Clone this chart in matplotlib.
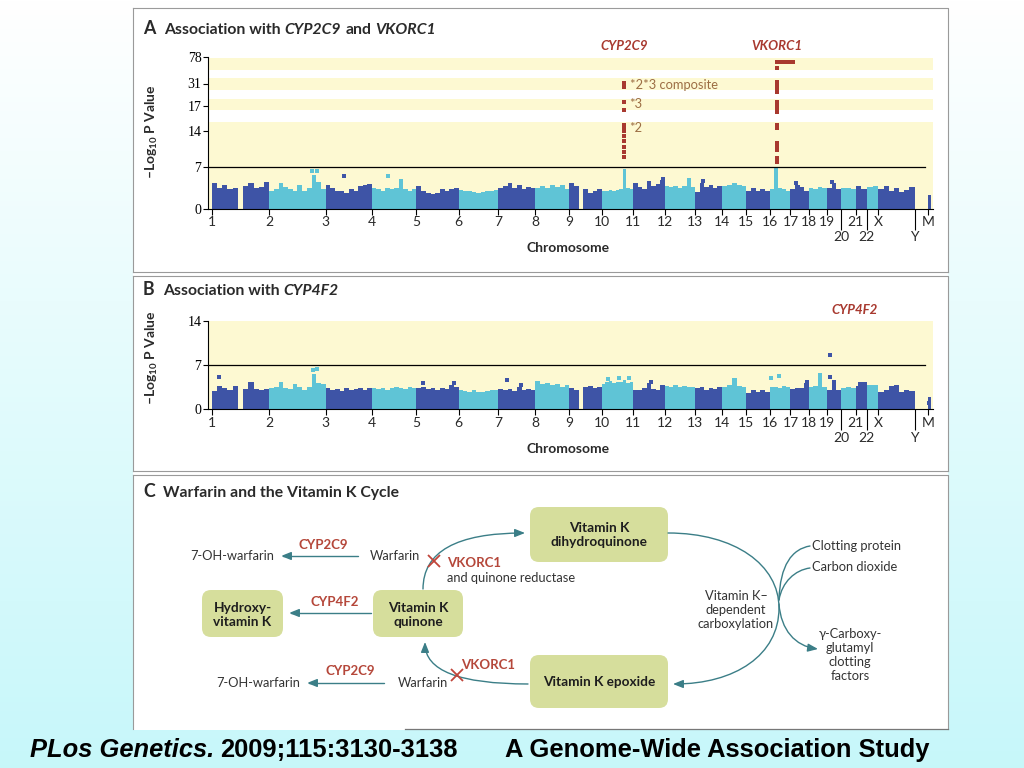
import numpy as np
import matplotlib
matplotlib.use("Agg")
import matplotlib.pyplot as plt
from matplotlib import font_manager as fm
from matplotlib.patches import Rectangle, FancyBboxPatch, FancyArrowPatch
from matplotlib.path import Path

# ---------------- data ----------------
chrom_labels = [str(i) for i in range(1, 23)] + ["X", "Y", "M"]
chrom_len_mb = [247, 243, 199, 191, 181, 171, 159, 146, 140, 135, 134, 132,
                114, 106, 100, 89, 79, 76, 64, 62, 47, 50, 155, 58, 12]

# skyline heights (-log10 P) per chromosome, left to right
heights_a = [
    [4.3, 3.5, 3.9, 3.2, 3.4, 0, 3.7, 4.3, 3.4, 3.6, 4.5],
    [2.9, 3.2, 4.3, 3.6, 3.2, 3.0, 4.0, 3.0, 3.4, 5.5, 4.5, 3.2],
    [4.0, 3.4, 2.9, 2.9, 2.6, 3.2, 2.9, 3.7, 4.0, 4.1],
    [3.4, 3.2, 3.0, 3.4, 3.2, 3.5, 4.9, 3.3, 3.0, 3.2],
    [3.7, 3.0, 2.6, 2.4, 2.6, 3.2, 3.0, 3.2, 3.4],
    [3.1, 3.0, 2.9, 2.8, 2.6, 2.7, 2.9, 3.0, 3.1],
    [3.4, 3.7, 4.3, 3.4, 4.0, 3.2, 3.6, 3.4],
    [3.4, 3.8, 3.5, 4.0, 3.6, 3.9, 3.2],
    [4.3, 3.8, 0, 3.2, 2.6, 3.0, 3.2],
    [2.9, 3.0, 3.1, 3.0, 3.1, 3.2, 6.6, 3.4, 3.2],
    [4.3, 3.6, 3.2, 4.6, 3.7, 4.1, 4.8],
    [3.7, 3.6, 3.8, 3.5, 3.7, 4.5, 3.6],
    [2.8, 4.3, 3.6, 3.9, 3.4, 3.8],
    [3.8, 4.0, 4.2, 4.0, 3.8],
    [2.9, 3.4, 3.0, 3.3, 2.9],
    [3.2, 6.7, 3.4, 3.2, 3.0],
    [3.2, 4.0, 3.6, 3.0],
    [3.4, 3.2, 3.6, 3.4],
    [3.4, 4.3, 3.2],
    [3.4, 3.5, 3.3],
    [3.7, 3.2],
    [3.6, 3.7],
    [3.2, 3.8, 3.0, 3.4, 2.8, 3.1, 3.6],
    [],
    [2.3],
]
heights_b = [
    [2.9, 3.7, 3.4, 3.0, 3.7, 0, 3.2, 4.3, 3.2, 3.0, 3.2],
    [3.4, 3.6, 4.3, 3.4, 3.2, 4.0, 3.5, 3.0, 3.6, 5.6, 4.2, 4.0],
    [3.4, 3.0, 3.2, 2.9, 3.3, 3.0, 3.2, 3.4, 3.0, 3.3],
    [3.3, 3.2, 3.4, 3.1, 3.3, 3.6, 3.4, 3.2, 3.5, 3.3],
    [3.4, 3.6, 3.2, 3.4, 3.0, 3.4, 3.2, 3.8, 3.5],
    [3.0, 2.9, 2.8, 3.0, 2.7, 2.8, 2.9, 3.0, 3.1],
    [3.2, 3.0, 3.2, 2.9, 3.6, 3.1, 3.2, 3.0],
    [4.5, 4.0, 4.2, 3.8, 4.0, 3.6, 3.8],
    [3.4, 3.0, 0, 3.6, 3.7, 3.4, 3.6],
    [4.0, 4.3, 4.5, 4.2, 4.4, 4.3, 4.6, 4.2, 4.4],
    [3.1, 3.0, 3.3, 4.2, 3.2, 3.0, 3.9],
    [3.7, 3.6, 3.8, 3.6, 3.7, 3.6, 3.5],
    [3.4, 3.6, 3.0, 3.4, 3.2, 3.5],
    [3.6, 3.8, 5.0, 3.7, 3.5],
    [2.6, 3.0, 2.8, 3.1, 2.8],
    [3.5, 3.6, 3.4, 3.7, 3.5],
    [3.2, 3.4, 3.3, 4.2],
    [3.6, 3.7, 5.8, 3.6],
    [3.0, 4.6, 3.0],
    [3.4, 3.6, 3.3],
    [3.7, 4.3],
    [3.8, 3.9],
    [2.8, 3.0, 3.7, 3.8, 2.8, 3.0, 2.9],
    [],
    [2.0],
]

# isolated squares above the skyline: (chromosome, fraction along it, value)
spots_a = [("2", 0.76, 6.3), ("2", 0.84, 6.3), ("2", 0.80, 5.3), ("3", 0.40, 5.4),
           ("4", 0.36, 5.5), ("11", 0.95, 5.0), ("12", 0.80, 4.8), ("13", 0.30, 4.6),
           ("17", 0.30, 4.3), ("19", 0.40, 4.5)]
spots_b = [("1", 0.12, 5.1), ("2", 0.77, 6.2), ("2", 0.84, 6.4), ("2", 0.80, 5.2),
           ("5", 0.15, 4.2), ("5", 0.88, 4.1), ("7", 0.23, 4.6), ("7", 0.62, 3.8),
           ("10", 0.20, 4.8), ("10", 0.55, 4.9), ("10", 0.86, 5.0), ("11", 0.56, 4.3),
           ("16", 0.08, 5.0), ("16", 0.45, 5.3), ("17", 0.90, 4.3), ("19", 0.25, 8.6),
           ("19", 0.25, 5.2), ("21", 0.40, 4.0), ("M", 0.50, 1.0)]

# significant SNPs (red)
cyp2c9_chrom, cyp2c9_mb = "10", 95
cyp2c9_vals = [31.4, 28.7, 19.7, 16.5, 14.7, 14.3, 13.9, 12.9, 11.9, 10.8, 9.8, 8.8]
vkorc1_chrom, vkorc1_mb = "16", 31
vkorc1_vals = [58.5, 33.7, 30.1, 28.2, 25.7, 19.5, 17.6, 16.8, 16.3, 14.7, 14.3,
               11.6, 10.8, 10.2, 8.6, 7.9]
vkorc1_top_mb = [31, 48, 65, 82, 99]
vkorc1_top_val = 69

yticks_a = [0, 7, 14, 17, 31, 78]
yticks_b = [0, 7, 14]
threshold = 7

# ---------------- style ----------------
DARK = "#3E54A6"
CYAN = "#5FC4D6"
YELLOW = "#FDF9D2"
RED = "#A8392F"
TEAL = "#3B7E87"
BOX = "#D6DE9C"
TXT = "#2a2a2a"


def pick(fams):
    for f in fams:
        try:
            fm.findfont(fm.FontProperties(family=f), fallback_to_default=False)
            return f
        except Exception:
            pass
    return "DejaVu Sans"


SANS = pick(["Lato", "Open Sans", "DejaVu Sans"])
NARROW = pick(["Liberation Sans Narrow", SANS])
SERIF = pick(["Liberation Serif", "DejaVu Serif"])
plt.rcParams["font.family"] = [SANS, "DejaVu Sans"]
plt.rcParams["mathtext.fontset"] = "custom"
plt.rcParams["mathtext.rm"] = SANS + ":bold"
plt.rcParams["mathtext.bf"] = SANS + ":bold"

starts = np.concatenate([[0], np.cumsum(chrom_len_mb)[:-1]])

fig = plt.figure(figsize=(10.24, 7.68), dpi=100)

# background gradient and page layout (pixel coordinates)
bg = fig.add_axes([0, 0, 1, 1])
grad = np.linspace(0, 1, 256)[:, None, None]
top_c = np.array([1.0, 1.0, 1.0])
bot_c = np.array([0.78, 0.97, 0.98])
img = top_c * (1 - grad) + bot_c * grad
bg.imshow(np.repeat(img, 2, axis=1), extent=(0, 1024, 768, 0), aspect="auto")
bg.set_xlim(0, 1024)
bg.set_ylim(768, 0)
bg.axis("off")

bg.add_patch(Rectangle((133, 8), 815, 722, fc="white", ec="none"))
for y0, y1 in [(8, 272), (276, 471), (475, 729)]:
    bg.plot([133, 948, 948], [y0, y0, y1], color="#9a9a9a", lw=0.8)
    bg.plot([133, 133], [y0, y1], color="#9a9a9a", lw=0.8)
bg.plot([133, 948], [272, 272], color="#9a9a9a", lw=0.8)
bg.plot([133, 948], [471, 471], color="#9a9a9a", lw=0.8)
bg.plot([405, 948], [729, 729], color="#777777", lw=0.9)


def rich(x, y, parts, size):
    t = bg.text(x, y, parts[0][0], fontsize=size + 1.5, fontweight="bold",
                va="baseline", color=TXT)
    for s, style, gap in parts[1:]:
        t = bg.annotate(s, xy=(1, 0), xycoords=t, xytext=(gap, 0),
                        textcoords="offset points", va="bottom", ha="left",
                        fontsize=size, fontweight="bold", fontstyle=style, color=TXT)


rich(143, 34, [("A", None, 0), ("Association with", "normal", 6),
               ("CYP2C9", "italic", 3), ("and", "normal", 3), ("VKORC1", "italic", 3)], 11.3)
rich(143, 295, [("B", None, 0), ("Association with", "normal", 6),
                ("CYP4F2", "italic", 3)], 11.3)
rich(143, 497, [("C", None, 0), ("Warfarin and the Vitamin K Cycle", "normal", 6)], 11.3)

# ---------------- Manhattan panels ----------------
ya_pos = [0, 42, 78, 102.5, 125, 151.5]
fx = [-100] + yticks_a + [500]
fp = [-600] + ya_pos + [151.5 + 422 * 26.5 / 47]


def fwd(v):
    return np.interp(v, fx, fp)


def inv(p):
    return np.interp(p, fp, fx)


px_per_mb = (928 - 211.7) / 3078
left_px, right_px = 207.7, 933
ax_w = (right_px - left_px) / 1024
axA = fig.add_axes([left_px / 1024, (768 - 208.5) / 768, ax_w, 151.5 / 768])
axB = fig.add_axes([left_px / 1024, (768 - 409.3) / 768, ax_w, 88.3 / 768])


def skyline(ax, heights, spots):
    for i, hs in enumerate(heights):
        if not hs:
            continue
        col = DARK if i % 2 == 0 else CYAN
        w = chrom_len_mb[i] / len(hs)
        x = starts[i] + w * np.arange(len(hs))
        ax.bar(x, hs, width=w, align="edge", color=col, linewidth=0, zorder=2)
    for c, f, v in spots:
        i = chrom_labels.index(c)
        col = DARK if i % 2 == 0 else CYAN
        ax.scatter(starts[i] + f * chrom_len_mb[i], v, marker="s", s=8,
                   color=col, linewidths=0, zorder=3)


def setup(ax, yticks, ylim):
    ax.set_facecolor("none")
    for s in ["top", "right"]:
        ax.spines[s].set_visible(False)
    for s in ["left", "bottom"]:
        ax.spines[s].set_linewidth(0.8)
        ax.spines[s].set_zorder(4)
    ax.set_xlim(-(211.7 - left_px) / px_per_mb, 3078 + (right_px - 928) / px_per_mb)
    ax.set_ylim(*ylim)
    lower = ("20", "22", "Y")
    major = [i for i, l in enumerate(chrom_labels) if l not in lower]
    minor = [i for i, l in enumerate(chrom_labels) if l in lower]
    ax.set_xticks(starts[major], [chrom_labels[i] for i in major])
    ax.set_xticks(starts[minor], [chrom_labels[i] for i in minor], minor=True)
    ax.tick_params(axis="x", which="major", length=4, width=0.8, pad=1.5, labelsize=10)
    ax.tick_params(axis="x", which="minor", length=15, width=0.8, pad=1, labelsize=10)
    ax.set_yticks(yticks, [str(t) for t in yticks])
    ax.tick_params(axis="y", length=3.5, width=0.8, pad=1, labelsize=10)
    for lab in ax.get_yticklabels():
        lab.set_fontfamily(SERIF)
    for lab in ax.get_xticklabels(which="both"):
        lab.set_fontfamily(NARROW)
        lab.set_color(TXT)
    ax.set_ylabel("\u2013Log$_{10}$ P Value", fontsize=10, fontweight="bold", color=TXT)
    ax.text(0.497, 0, "Chromosome", transform=ax.transAxes, ha="center", va="center",
            fontsize=10, fontweight="bold", color=TXT)


# panel A
axA.set_yscale("function", functions=(fwd, inv))
for lo, hi in [(0, 15), (16.5, 21.4), (27, 40.8), (55, 76.2)]:
    axA.axhspan(lo, hi, color=YELLOW, lw=0, zorder=0)
skyline(axA, heights_a, spots_a)
axA.axhline(threshold, xmax=0.989, color="black", lw=0.9, zorder=3)
setup(axA, yticks_a, (0, 78))
axA.yaxis.set_label_coords(-0.066, 0.51)
axA.texts[-1].set_position((0.497, -39.5 / 151.5))

xc = starts[chrom_labels.index(cyp2c9_chrom)] + cyp2c9_mb
xv = starts[chrom_labels.index(vkorc1_chrom)] + vkorc1_mb
red_kw = dict(marker="s", s=6, color=RED, linewidths=0, zorder=5)
axA.scatter([xc] * len(cyp2c9_vals), cyp2c9_vals, **red_kw)
axA.scatter([xv] * len(vkorc1_vals), vkorc1_vals, **red_kw)
axA.scatter(starts[chrom_labels.index(vkorc1_chrom)] + np.array(vkorc1_top_mb),
            [vkorc1_top_val] * len(vkorc1_top_mb), **red_kw)
for x, name in [(xc, "CYP2C9"), (xv, "VKORC1")]:
    axA.annotate(name, xy=(x, 1.07), xycoords=("data", "axes fraction"), ha="center",
                 va="center", fontsize=9.5, fontweight="bold", fontstyle="italic",
                 color=RED, annotation_clip=False)
for v, lab in [(29.8, "*2*3 composite"), (18.2, "*3"), (14.3, "*2")]:
    axA.annotate(lab, xy=(xc, v), xytext=(4, 0), textcoords="offset points",
                 va="center", ha="left", fontsize=9.3, color="#9C6E44")

# panel B
axB.axhspan(0, 14, color=YELLOW, lw=0, zorder=0)
skyline(axB, heights_b, spots_b)
axB.axhline(threshold, xmax=0.989, color="black", lw=0.9, zorder=3)
setup(axB, yticks_b, (0, 14))
axB.yaxis.set_label_coords(-0.066, 0.58)
axB.texts[-1].set_position((0.497, -39.7 / 88.3))
bg.text(855, 310, "CYP4F2", ha="center", va="center", fontsize=9.5,
        fontweight="bold", fontstyle="italic", color=RED)

# ---------------- panel C: vitamin K cycle ----------------
def box(x0, y0, x1, y1, text):
    bg.add_patch(FancyBboxPatch((x0, y0), x1 - x0, y1 - y0,
                                boxstyle="round,pad=0,rounding_size=9", fc=BOX, ec="none"))
    bg.text((x0 + x1) / 2, (y0 + y1) / 2 + 1, text, ha="center", va="center",
            fontsize=9.8, fontweight="bold", color="#1e1e1e", linespacing=1.2)


box(530, 507, 668, 562, "Vitamin K\ndihydroquinone")
box(530, 655, 668, 708, "Vitamin K epoxide")
box(373, 590, 463, 637, "Vitamin K\nquinone")
box(202, 590, 283, 637, "Hydroxy-\nvitamin K")

arrow_style = "-|>,head_length=0.55,head_width=0.22"


def arrow(verts, codes, head=True):
    p = Path(verts, codes)
    bg.add_patch(FancyArrowPatch(path=p, arrowstyle=arrow_style if head else "-",
                                 mutation_scale=11, color=TEAL, lw=1.0,
                                 shrinkA=0, shrinkB=0))


M, L, C3, C4 = Path.MOVETO, Path.LINETO, Path.CURVE3, Path.CURVE4
arrow([(358, 556), (281, 556)], [M, L])
arrow([(371, 613), (289, 613)], [M, L])
arrow([(384, 683), (307, 683)], [M, L])
arrow([(423, 589), (423, 533), (525, 533)], [M, C3, C3])
arrow([(528, 684), (425, 684), (425, 642)], [M, C3, C3])
arrow([(668, 533), (735, 533), (779, 565), (779, 608), (779, 655), (735, 684), (673, 684)],
      [M, C4, C4, C4, C4, C4, C4])
arrow([(810, 546), (792, 549), (780, 565), (779, 600)], [M, C4, C4, C4], head=False)
arrow([(810, 568), (795, 570), (782, 582), (779, 600)], [M, C4, C4, C4], head=False)
arrow([(779, 604), (781, 630), (795, 646), (818, 649)], [M, C4, C4, C4])

bg.plot([434, 457], [561, 675], ls="none", marker="x", ms=8, mew=1.3, color="#C0453A")

small = dict(fontsize=9.3, color="#333333", va="center")
redt = dict(fontsize=9.5, color="#B5473A", va="center", fontweight="bold")
bg.text(190, 556, "7-OH-warfarin", ha="left", **small)
bg.text(323, 545, "CYP2C9", ha="center", **redt)
bg.text(370, 556, "Warfarin", ha="left", **small)
bg.text(447, 563, "VKORC1", ha="left", **redt)
bg.text(447, 578, "and quinone reductase", ha="left", **small)
bg.text(335, 602, "CYP4F2", ha="center", **redt)
bg.text(216, 683, "7-OH-warfarin", ha="left", **small)
bg.text(350, 671, "CYP2C9", ha="center", **redt)
bg.text(398, 683, "Warfarin", ha="left", **small)
bg.text(461, 665, "VKORC1", ha="left", **redt)
bg.text(812, 546, "Clotting protein", ha="left", **small)
bg.text(812, 567, "Carbon dioxide", ha="left", **small)
bg.text(736, 610, "Vitamin K\u2013\ndependent\ncarboxylation", ha="center",
        linespacing=1.2, **small)
bg.text(850, 655, "\u03b3-Carboxy-\nglutamyl\nclotting\nfactors", ha="center",
        linespacing=1.2, **small)

# ---------------- footer ----------------
foot = pick(["Liberation Sans", "DejaVu Sans"])
t1 = bg.text(30, 757, "PLos Genetics.", fontsize=18.4, fontweight="bold",
             fontstyle="italic", family=foot, va="baseline", color="black")
bg.annotate("2009;115:3130-3138", xy=(1, 0), xycoords=t1, xytext=(4, 0),
            textcoords="offset points", va="bottom", fontsize=18.4, fontweight="bold",
            family=foot, color="black")
bg.text(505, 757, "A Genome-Wide Association Study", fontsize=18.4, fontweight="bold",
        family=foot, va="baseline", color="black")

fig.savefig("out.png", dpi=100)
